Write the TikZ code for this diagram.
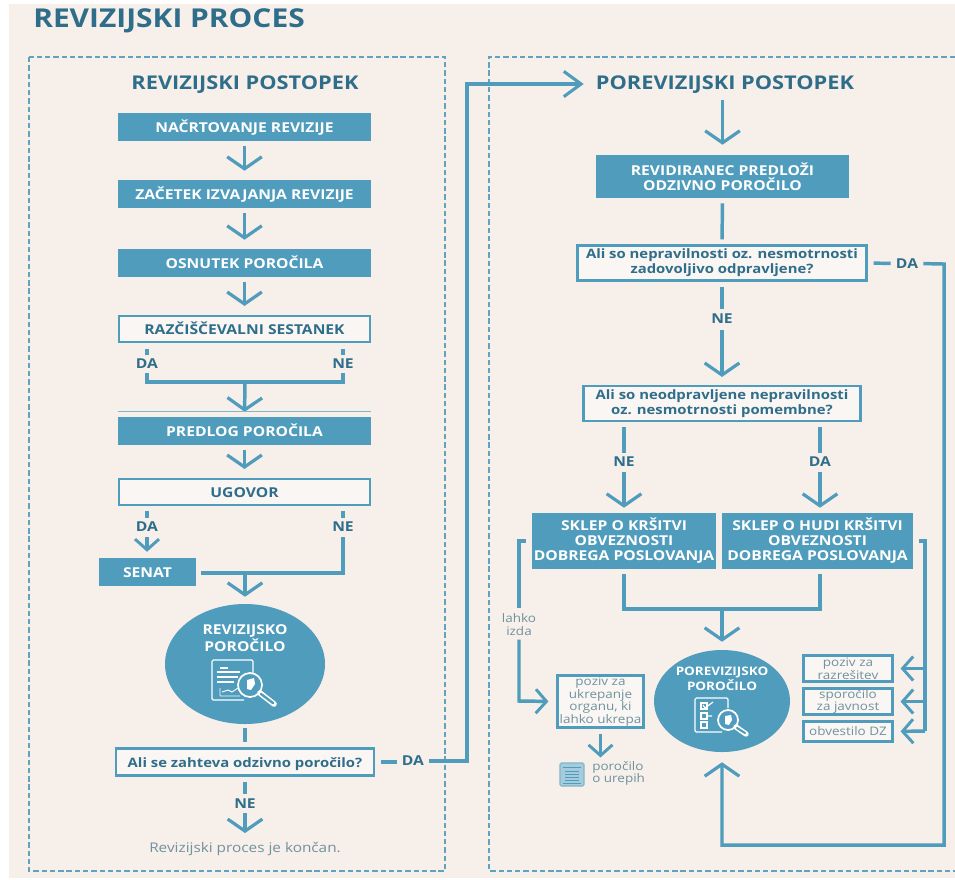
\documentclass[tikz,border=0pt]{standalone}
\usepackage{fontspec}
\setmainfont[FakeStretch=1.15]{Open Sans}
\usetikzlibrary{arrows.meta,shapes.geometric}
\definecolor{bluef}{HTML}{4F9CBC}
\definecolor{darkt}{HTML}{2F6E8B}
\definecolor{paper}{HTML}{F7EFE9}
\definecolor{whitef}{HTML}{FAF6F3}
\definecolor{greyt}{HTML}{6F929F}
\definecolor{dashc}{HTML}{5FA3BE}
\definecolor{iconf}{HTML}{A5CCDC}
\tikzset{
  wh/.style 2 args={minimum width=#1*0.75pt,minimum height=#2*0.75pt,inner sep=0pt},
  gap/.style 2 args={shorten <=#1*0.75pt,shorten >=#2*0.75pt},
  capsline/.style={text height=7.2pt,text depth=0pt},
  boxline/.style={text height=8.2pt,text depth=0pt},
  bluebox/.style={fill=bluef,text=white,font=\fontsize{10.2}{11.25}\selectfont\bfseries,align=center},
  whitebox/.style={fill=whitef,draw=bluef,line width=1.6pt,text=darkt,font=\fontsize{10.2}{11.25}\selectfont\bfseries,align=center},
  askbox/.style={whitebox,font=\fontsize{9.7}{11.25}\selectfont\bfseries},
  smallbox/.style={fill=whitef,draw=bluef,line width=1.6pt,text=greyt,font=\fontsize{8.8}{9.4}\selectfont,align=center},
  lbl/.style={text=darkt,font=\fontsize{10.2}{11}\selectfont\bfseries,inner sep=0pt,capsline},
  smalltxt/.style={text=greyt,font=\fontsize{8.8}{9.4}\selectfont,inner sep=0pt,align=center},
  ln/.style={draw=bluef,line width=2.6pt,line join=miter},
  bigarrow/.style={ln,-{Straight Barb[length=9pt,width=26pt,line width=2.4pt]}},
  smallarrow/.style={ln,-{Straight Barb[length=8pt,width=18pt,line width=2.2pt]}},
  frame/.style={draw=dashc,line width=1pt,dash pattern=on 4pt off 2.2pt},
  ic/.style={draw=white,line width=0.9pt},
  blob/.style={ellipse,fill=bluef,inner sep=0pt},
}
\begin{document}
\begin{tikzpicture}[x=0.75pt,y=-0.75pt]
\useasboundingbox (0,0) rectangle (955,879);
\fill[paper] (9,4) rectangle (955,878);
% frames
\draw[frame] (29,57) rectangle (445,871);
\draw[frame] (955,57) -- (489,57) -- (489,871) -- (955,871);
% titles
\node[text=darkt,font=\fontsize{19.5}{20}\selectfont\bfseries,inner sep=0pt,anchor=west] (title) at (33,21) {REVIZIJSKI PROCES};
\node[text=darkt,font=\fontsize{14.2}{15}\selectfont\bfseries,inner sep=0pt] (ltitle) at (245,84.5) {REVIZIJSKI POSTOPEK};
\node[text=darkt,font=\fontsize{14.2}{15}\selectfont\bfseries,inner sep=0pt] (rtitle) at (725,84.5) {POREVIZIJSKI POSTOPEK};
% left column
\node[bluebox,boxline,wh={253}{28}] (a) at (244.5,127) {NAČRTOVANJE REVIZIJE};
\node[bluebox,boxline,wh={253}{28}] (b) at (244.5,194) {ZAČETEK IZVAJANJA REVIZIJE};
\node[bluebox,boxline,wh={253}{28}] (c) at (244.5,263) {OSNUTEK POROČILA};
\node[whitebox,boxline,wh={251}{26}] (d) at (244.5,329) {RAZČIŠČEVALNI SESTANEK};
\node[bluebox,boxline,wh={253}{28}] (e) at (244.5,431) {PREDLOG POROČILA};
\node[whitebox,boxline,wh={251}{26}] (f) at (244.5,492) {UGOVOR};
\node[bluebox,boxline,wh={97}{28}] (g) at (147.5,572) {SENAT};
\node[blob,wh={160}{120}] (hc) at (245,664) {};
\node[text=white,font=\fontsize{10.2}{11.25}\selectfont\bfseries,align=center,inner sep=0pt] (h) at (245,638.5) {REVIZIJSKO\\POROČILO};
\node[askbox,wh={258}{27},text height=8pt,text depth=0pt] (i) at (245,762) {Ali se zahteva odzivno poročilo?};
\node[text=greyt,font=\fontsize{10}{11}\selectfont,inner sep=0pt] (end) at (245,849) {Revizijski proces je končan.};
% left labels
\node[lbl] (da1) at (147,364) {DA};
\node[lbl] (ne1) at (343,364) {NE};
\node[lbl] (da2) at (147,527) {DA};
\node[lbl] (ne2) at (343,527) {NE};
\node[lbl] (ne3) at (245,804) {NE};
\node[lbl] (da3) at (413,761) {DA};
% left connectors
\draw[bigarrow,gap={5}{9}] (a.south) -- (b.north);
\draw[bigarrow,gap={5}{9}] (b.south) -- (c.north);
\draw[bigarrow,gap={5}{9}] (c.south) -- (d.north);
\draw[ln,gap={6}{4}] (da1.north |- d.south) -- (da1.north);
\draw[ln,gap={6}{4}] (ne1.north |- d.south) -- (ne1.north);
\coordinate (j1) at (245,382);
\draw[ln,gap={4}{4}] (da1.south) -- (da1.south |- j1) -- (ne1.south |- j1) -- (ne1.south);
\draw[bigarrow,gap={0}{5}] (j1) -- (e.north);
\draw[draw=bluef!70!paper,line width=0.7pt] ([yshift=3.7pt]e.north west) -- ([yshift=3.7pt]e.north east);
\draw[bigarrow,gap={5}{9}] (e.south) -- (f.north);
\draw[ln,gap={5}{4}] (da2.north |- f.south) -- (da2.north);
\draw[ln,gap={5}{4}] (ne2.north |- f.south) -- (ne2.north);
\draw[smallarrow,gap={5}{6}] (da2.south) -- (da2.south |- g.north);
\coordinate (j2) at (245,573);
\draw[ln,gap={5}{5}] (ne2.south) -- (ne2.south |- j2) -- (g.east |- j2);
\draw[bigarrow,gap={0}{7}] (j2) -- (hc.north);
\draw[ln,gap={4}{5}] (hc.south) -- (i.north);
\draw[ln,gap={5}{5}] (i.south) -- (ne3.north);
\draw[bigarrow,gap={4}{9}] (ne3.south) -- (end.north);
\draw[ln,gap={6}{5}] (i.east) -- (da3.west |- i.east);
\coordinate (j3) at (467,761);
\coordinate (j4) at (467,84);
\draw[ln,-{Straight Barb[length=13pt,width=19pt,line width=2.3pt]},gap={5}{12}] (da3.east |- j3) -- (j3) -- (j4) -- (rtitle.west |- j4);
% icon left
\draw[ic,rounded corners=1pt] (253,676) -- (253,660) -- (212,660) -- (212,700) -- (244,700);
\draw[ic] (220,668) -- (228,668) (217,672) -- (240,672) (217,677) -- (238,677) (217,682) -- (234,682);
\draw[ic,line width=0.7pt] (220,696) -- (220,688) (220,696) -- (240,696) (222,692) -- (228,690) -- (232,692) -- (238,688);
\filldraw[ic,fill=bluef,line width=1.3pt] (250,685) circle [radius=12];
\fill[white] (247,680) -- (254,678) -- (255,684) -- (251,690) -- (247,689) -- cycle;
\draw[white,line width=4.2pt,line cap=round] (260,693) -- (274,704);
\draw[bluef,line width=1.8pt,line cap=round] (261,694) -- (273,703);
% right column
\node[bluebox,wh={253}{43}] (r1) at (722.5,176.5) {REVIDIRANEC PREDLOŽI\\ODZIVNO POROČILO};
\node[askbox,wh={289}{35}] (r2) at (722,263) {Ali so nepravilnosti oz. nesmotrnosti\\zadovoljivo odpravljene?};
\node[askbox,wh={277}{35}] (r3) at (722,403.5) {Ali so neodpravljene nepravilnosti\\oz. nesmotrnosti pomembne?};
\node[bluebox,wh={184}{56}] (s1) at (624,541) {SKLEP O KRŠITVI\\OBVEZNOSTI\\DOBREGA POSLOVANJA};
\node[bluebox,wh={191}{56}] (s2) at (817.5,541) {SKLEP O HUDI KRŠITVI\\OBVEZNOSTI\\DOBREGA POSLOVANJA};
\node[blob,wh={136}{102}] (pc) at (722,701) {};
\node[text=white,font=\fontsize{8.8}{9.4}\selectfont\bfseries,align=center,inner sep=0pt] (p) at (722,679) {POREVIZIJSKO\\POROČILO};
\node[smallbox,wh={86}{52}] (u) at (600.5,701.5) {poziv za\\ukrepanje\\organu, ki\\lahko ukrepa};
\node[smallbox,wh={89}{26}] (m1) at (848,668.5) {poziv za\\razrešitev};
\node[smallbox,wh={89}{26}] (m2) at (848,701.5) {sporočilo\\za javnost};
\node[smallbox,wh={89}{20}] (m3) at (848,731.5) {obvestilo DZ};
\node[smalltxt,anchor=north west,align=left] (rep) at (592,761) {poročilo\\o urepih};
\node[fill=iconf,draw=bluef!70!paper,line width=0.8pt,rounded corners=1pt,wh={24}{23}] (doc) at (572,774.5) {};
\draw[bluef,line width=0.7pt] (563,767) -- (581,767) (565,771) -- (579,771) (565,774) -- (579,774) (565,777) -- (579,777) (565,780) -- (579,780) (563,783.5) -- (581,783.5);
% right labels
\node[lbl] (da4) at (907,263.5) {DA};
\node[lbl] (ne4) at (722,319) {NE};
\node[lbl] (ne5) at (624,462) {NE};
\node[lbl] (da5) at (820,462) {DA};
\node[smalltxt] (lz) at (519,624.5) {lahko\\izda};
% right connectors
\draw[bigarrow,gap={6}{10}] (rtitle.south -| r1.north) -- (r1.north);
\draw[ln,gap={5}{5}] (r1.south) -- (r2.north);
\draw[ln,gap={5}{5}] (r2.south) -- (ne4.north);
\draw[bigarrow,gap={6}{8}] (ne4.south) -- (r3.north);
\draw[ln,gap={5}{4}] (ne5.north |- r3.south) -- (ne5.north);
\draw[ln,gap={5}{4}] (da5.north |- r3.south) -- (da5.north);
\draw[bigarrow,gap={5}{5}] (ne5.south) -- (ne5.south |- s1.north);
\draw[bigarrow,gap={5}{5}] (da5.south) -- (da5.south |- s2.north);
\coordinate (j5) at (722,609);
\draw[ln,gap={5}{5}] (ne5.south |- s1.south) -- (ne5.south |- j5) -- (da5.south |- j5) -- (da5.south |- s2.south);
\draw[bigarrow,gap={0}{8}] (j5) -- (pc.north);
\draw[ln,gap={6}{5}] (r2.east) -- (da4.west);
\coordinate (j6) at (944,264);
\coordinate (j7) at (944,845);
\coordinate (j8) at (722,845);
\draw[bigarrow,gap={5}{10}] (da4.east) -- (j6) -- (j7) -- (j8) -- (pc.south);
\coordinate (j9) at (519,541);
\draw[ln,gap={6}{5}] (s1.west) -- (j9) -- (lz.north);
\coordinate (j10) at (519,701);
\draw[smallarrow,gap={4}{8}] (lz.south) -- (j10) -- (u.west);
\draw[smallarrow,gap={5}{5}] (u.south) -- (u.south |- doc.north);
\coordinate (j11) at (925,541);
\coordinate (j12) at (925,731);
\draw[ln,gap={6}{0}] (s2.east) -- (j11) -- (j12);
\draw[smallarrow,gap={0}{7}] (j12) -- (m3.east);
\draw[smallarrow,gap={0}{7}] (j11 |- m1.east) -- (m1.east);
\draw[smallarrow,gap={0}{7}] (j11 |- m2.east) -- (m2.east);
% icon right
\draw[ic,rounded corners=1pt] (728,708) -- (728,698) -- (695,698) -- (695,732) -- (722,732);
\draw[ic] (701,703) rectangle (707,709) (701,713) rectangle (707,719) (701,722) rectangle (707,728);
\draw[ic] (703,705) -- (705,708) -- (713,702) (707,716) -- (712,716);
\filldraw[ic,fill=bluef,line width=1.3pt] (728,720) circle [radius=10];
\fill[white] (725,716) -- (731,715) -- (732,720) -- (729,725) -- (725,724) -- cycle;
\draw[white,line width=4pt,line cap=round] (736,727) -- (746,734);
\draw[bluef,line width=1.6pt,line cap=round] (737,728) -- (745,733);
\end{tikzpicture}
\end{document}
